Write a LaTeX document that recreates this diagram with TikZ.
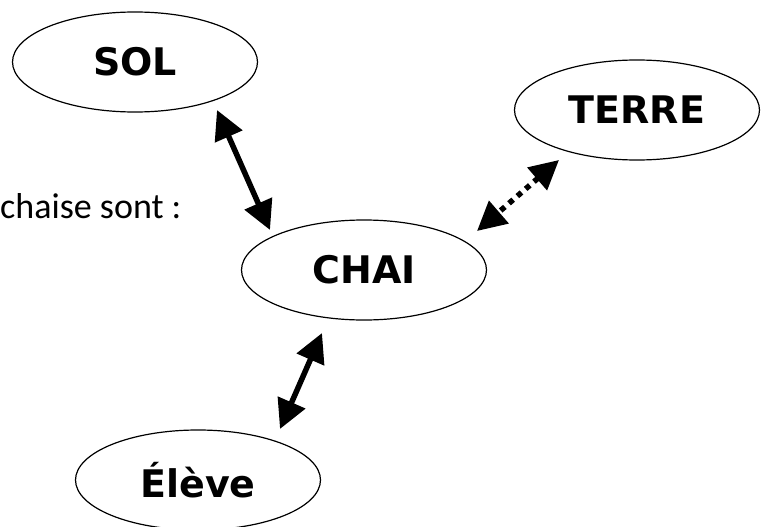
\documentclass[tikz,border=0pt]{standalone}
\usepackage{fontspec}
\setmainfont{Carlito}
\newfontfamily\motfont{DejaVu Sans}
\usetikzlibrary{shapes.geometric,arrows.meta}

\begin{document}
\begin{tikzpicture}[x=1pt,y=-1pt,
    bulle/.style={ellipse,draw,line width=1.2pt,minimum width=245pt,minimum height=100pt,inner sep=0pt,
      font=\motfont\bfseries\fontsize{38}{44}\selectfont},
    fleche/.style={line width=5.5pt,{Triangle[length=29pt,width=29pt]}-{Triangle[length=29pt,width=29pt]}}]
            		\useasboundingbox (0,0) rectangle (763,527);

            		\node (sol) at (135,62) [bulle] {SOL};
            		\node (terre) at (637,110) [bulle] {TERRE};
            		\node (chai) at (364,270) [bulle] {CHAI};
            		\node (eleve) at (198,480) [bulle] {Élève};
            		\node (texte) at (0,218) [anchor=base west,inner sep=0pt,font=\fontsize{36}{40}\selectfont] {chaise sont :};

            		% bouts des fleches
            		\coordinate (s1) at (217,110);
            		\coordinate (s2) at (270,230);
            		\coordinate (t1) at (559,160);
            		\coordinate (t2) at (477,231);
            		\coordinate (e1) at (322,333);
            		\coordinate (e2) at (280,429);

            		\draw[fleche] (s1) -- (s2);
            		\draw[fleche,dash pattern=on 5.5pt off 5.5pt] (t1) -- (t2);
            		\draw[fleche] (e1) -- (e2);

        		\end{tikzpicture}
\end{document}
